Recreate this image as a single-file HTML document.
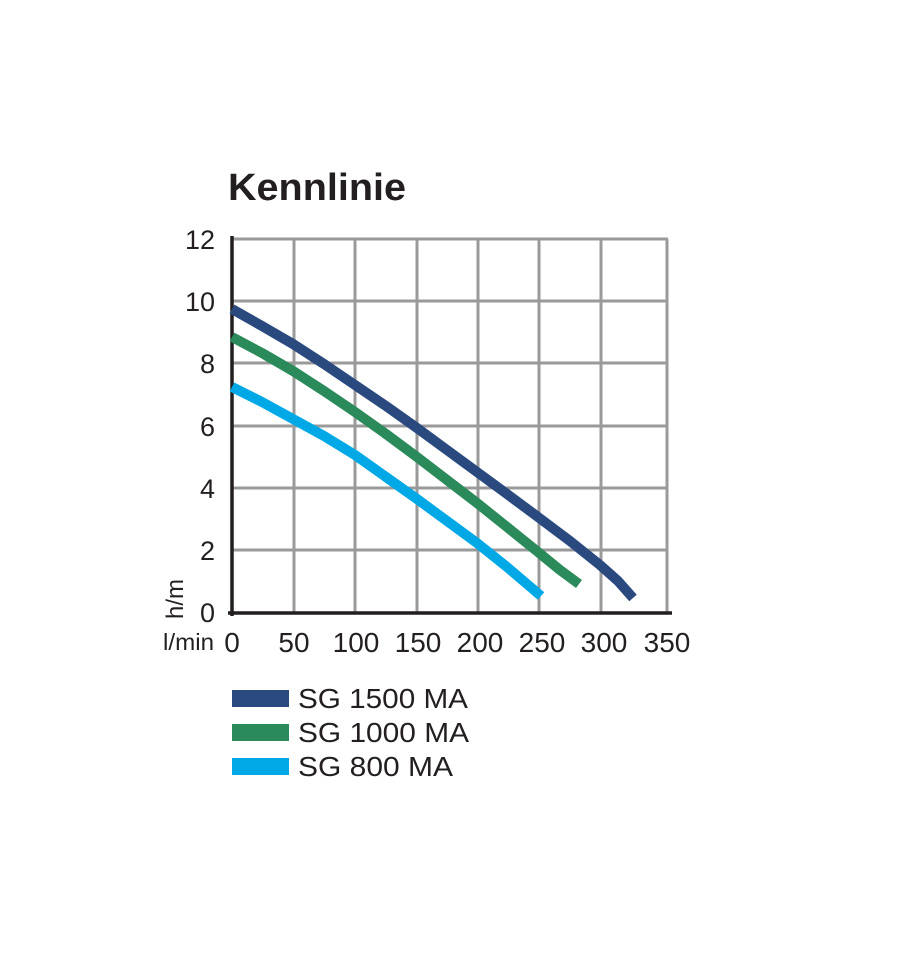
<!DOCTYPE html>
<html><head><meta charset="utf-8"><style>
html,body{margin:0;padding:0;background:#fff;}
svg{display:block;}
text{font-family:"Liberation Sans",Arial,sans-serif;fill:#231f20;}
</style></head><body>
<svg width="919" height="958" viewBox="0 0 919 958" xmlns="http://www.w3.org/2000/svg">
<text x="228" y="200" font-size="38" font-weight="bold" textLength="178" lengthAdjust="spacingAndGlyphs">Kennlinie</text>
<g stroke="#9a9a9a" stroke-width="3" fill="none">
<line x1="232" y1="239" x2="668" y2="239"/>
<line x1="232" y1="301" x2="668" y2="301"/>
<line x1="232" y1="363" x2="668" y2="363"/>
<line x1="232" y1="426" x2="668" y2="426"/>
<line x1="232" y1="488" x2="668" y2="488"/>
<line x1="232" y1="550" x2="668" y2="550"/>
<line x1="294" y1="239" x2="294" y2="612"/>
<line x1="355" y1="239" x2="355" y2="612"/>
<line x1="417" y1="239" x2="417" y2="612"/>
<line x1="478" y1="239" x2="478" y2="612"/>
<line x1="539" y1="239" x2="539" y2="612"/>
<line x1="601" y1="239" x2="601" y2="612"/>
<line x1="667" y1="239" x2="667" y2="612"/>
</g>
<line x1="232" y1="236" x2="232" y2="616" stroke="#231f20" stroke-width="3.5"/>
<line x1="228" y1="613" x2="672" y2="613" stroke="#231f20" stroke-width="3.5"/>
<g fill="none" stroke-width="10" stroke-linejoin="round">
<polyline points="232,387 262,402 293,419 324,436 355,455 386,477 417,499 447,521 477,543 507,567 541,596" stroke="#00a8e6"/>
<polyline points="232,337 262,353 293,371 324,391 355,412 386,434 417,457 447,480 477,503 507,527 538,552 560,570 579,584" stroke="#2a8a5a"/>
<polyline points="232,309 262,326 293,344 324,364 355,385 386,406 417,428 447,450 477,472 507,494 538,517 570,541 600,565 618,581 633,598" stroke="#2a4a7f"/>
</g>
<g font-size="27" text-anchor="end">
<text x="215" y="249">12</text>
<text x="215" y="311">10</text>
<text x="215" y="373">8</text>
<text x="215" y="436">6</text>
<text x="215" y="498">4</text>
<text x="215" y="560">2</text>
<text x="215" y="622">0</text>
</g>
<g font-size="28" text-anchor="middle">
<text x="232" y="652">0</text>
<text x="294" y="652">50</text>
<text x="356" y="652">100</text>
<text x="418" y="652">150</text>
<text x="480" y="652">200</text>
<text x="542" y="652">250</text>
<text x="604" y="652">300</text>
<text x="667" y="652">350</text>
</g>
<text x="163" y="650" font-size="23" textLength="51" lengthAdjust="spacingAndGlyphs">l/min</text>
<text transform="translate(183,619) rotate(-90)" font-size="24">h/m</text>
<rect x="232" y="690" width="57" height="17" fill="#2a4a7f"/>
<rect x="232" y="724" width="57" height="17" fill="#2a8a5a"/>
<rect x="232" y="758" width="57" height="17" fill="#00a8e6"/>
<g font-size="28">
<text x="298" y="708" textLength="170" lengthAdjust="spacingAndGlyphs">SG 1500 MA</text>
<text x="298" y="742" textLength="171" lengthAdjust="spacingAndGlyphs">SG 1000 MA</text>
<text x="298" y="776" textLength="155" lengthAdjust="spacingAndGlyphs">SG 800 MA</text>
</g>
</svg>
</body></html>
